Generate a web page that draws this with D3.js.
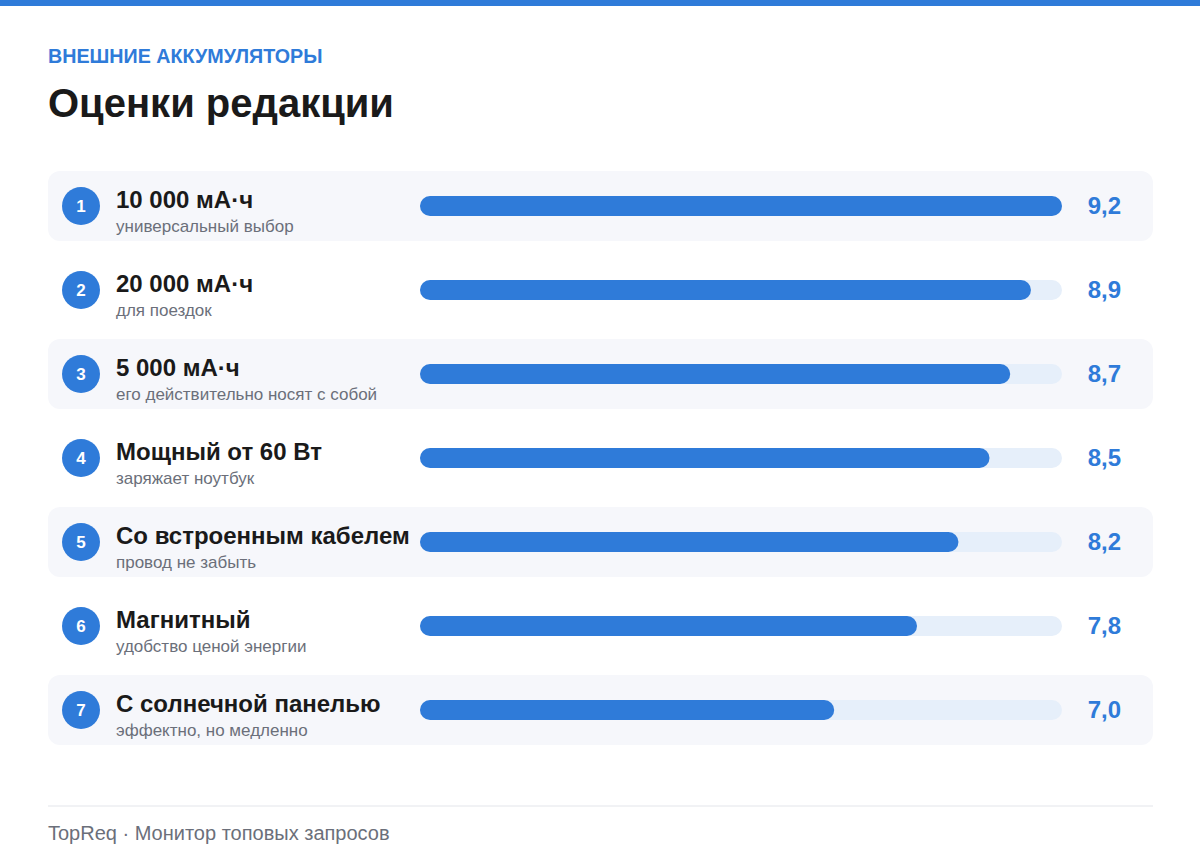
<!DOCTYPE html>
<html><head><meta charset="utf-8">
<script src="https://cdn.jsdelivr.net/npm/d3@7"></script>
<style>body{margin:0;background:#fff;font-family:"Liberation Sans",Arial,sans-serif}</style>
</head><body><div id="chart"></div>
<script>
var names = ['10 000 мА·ч', '20 000 мА·ч', '5 000 мА·ч', 'Мощный от 60 Вт', 'Со встроенным кабелем', 'Магнитный', 'С солнечной панелью'];
var notes = ['универсальный выбор', 'для поездок', 'его действительно носят с собой', 'заряжает ноутбук', 'провод не забыть', 'удобство ценой энергии', 'эффектно, но медленно'];
var scores = [9.2, 8.9, 8.7, 8.5, 8.2, 7.8, 7.0];

var W = 1200, H = 868, blue = '#2f7bd9';
var svg = d3.select('#chart').append('svg').attr('width', W).attr('height', H);
svg.append('rect').attr('width', W).attr('height', 6).attr('fill', blue);
svg.append('text').attr('x', 48).attr('y', 63).attr('fill', blue)
    .style('font', 'bold 19.7px "Liberation Sans", Arial').text('ВНЕШНИЕ АККУМУЛЯТОРЫ');
svg.append('text').attr('x', 48).attr('y', 117).attr('fill', '#1a1a1a')
    .style('font', 'bold 40px "Liberation Sans", Arial').text('Оценки редакции');

var y = d3.scaleBand().domain(d3.range(names.length)).range([171, 171 + 84 * 6 + 70]).paddingInner(14 / 84).paddingOuter(0);
var x = d3.scaleLinear().domain([3, 9.2]).range([420, 1062]);

var row = svg.selectAll('.row').data(scores).enter().append('g')
    .attr('transform', function(d, i) { return 'translate(0,' + y(i) + ')'; });
var bh = y.bandwidth(), mid = bh / 2;

row.append('rect').attr('x', 48).attr('width', 1105).attr('height', bh).attr('rx', 12)
    .attr('fill', function(d, i) { return i % 2 ? 'none' : '#f6f7fb'; });
row.append('circle').attr('cx', 81).attr('cy', mid).attr('r', 19).attr('fill', blue);
row.append('text').attr('x', 81).attr('y', mid + 6).attr('text-anchor', 'middle').attr('fill', '#fff')
    .style('font', 'bold 17px "Liberation Sans", Arial').text(function(d, i) { return i + 1; });
row.append('text').attr('x', 116).attr('y', mid + 2).attr('fill', '#1a1a1a')
    .style('font', 'bold 24px "Liberation Sans", Arial').text(function(d, i) { return names[i]; });
row.append('text').attr('x', 116).attr('y', mid + 26).attr('fill', '#6b6f7a')
    .style('font', '17px "Liberation Sans", Arial').text(function(d, i) { return notes[i]; });
row.append('rect').attr('x', x(3)).attr('y', mid - 10).attr('width', x(9.2) - x(3)).attr('height', 20)
    .attr('rx', 10).attr('fill', '#e6effa');
row.append('rect').attr('x', x(3)).attr('y', mid - 10).attr('width', function(d) { return x(d) - x(3); })
    .attr('height', 20).attr('rx', 10).attr('fill', blue);
row.append('text').attr('x', 1121).attr('y', mid + 8).attr('text-anchor', 'end').attr('fill', blue)
    .style('font', 'bold 24px "Liberation Sans", Arial')
    .text(function(d) { return d3.format('.1f')(d).replace('.', ','); });

svg.append('line').attr('x1', 48).attr('x2', 1153).attr('y1', 806).attr('y2', 806).attr('stroke', '#e3e5ea');
svg.append('text').attr('x', 48).attr('y', 840).attr('fill', '#6b6f7a')
    .style('font', '20px "Liberation Sans", Arial').text('TopReq · Монитор топовых запросов');
</script></body></html>
